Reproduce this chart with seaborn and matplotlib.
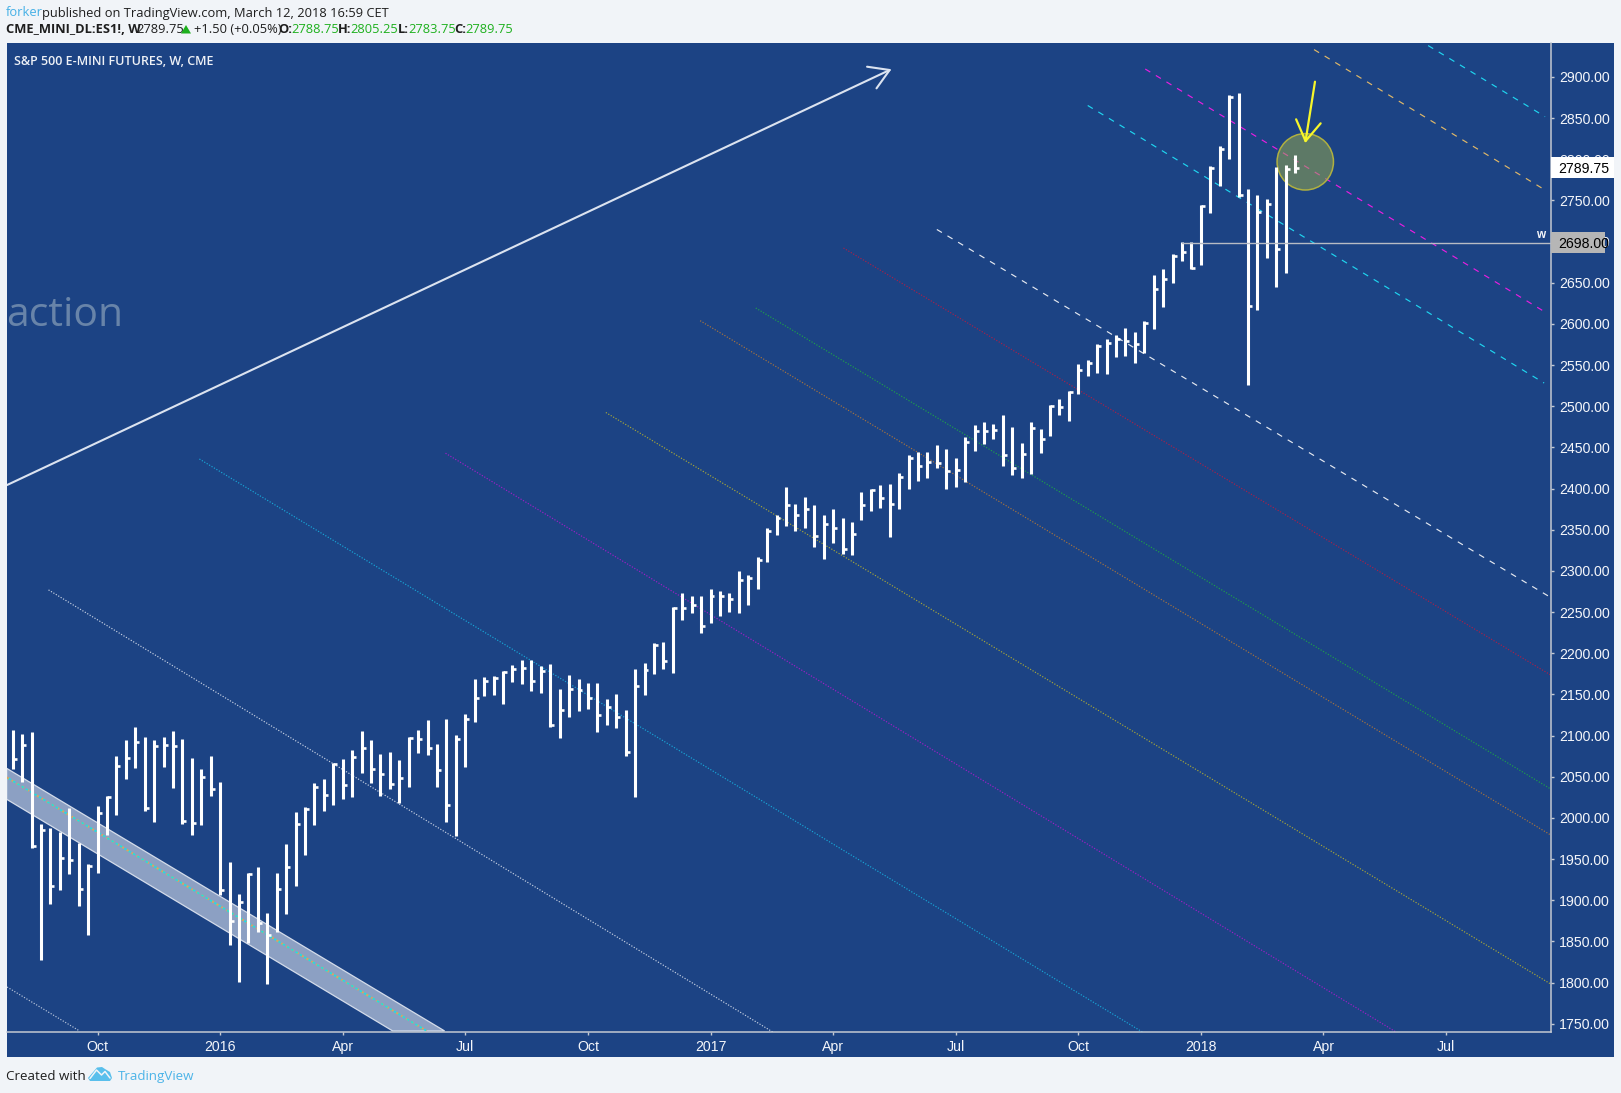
import matplotlib
matplotlib.use("Agg")
import matplotlib.pyplot as plt
from matplotlib.patches import Ellipse, Polygon, Rectangle
import numpy as np
import pandas as pd
import seaborn as sns

highs = [2106.9,2102.0,2104.4,1992.3,1987.8,1983.0,2011.7,1969.2,1943.7,2014.5,
2026.3,2075.3,2094.3,2110.0,2098.4,2094.3,2098.4,2105.2,2095.5,2072.8,
2059.5,2075.3,2043.3,1946.1,1907.2,1932.7,1940.0,1884.2,1932.7,1968.0,
2006.8,2012.9,2042.0,2046.9,2066.4,2071.2,2082.2,2105.2,2094.3,2077.7,
2080.1,2070.0,2098.8,2106.5,2118.6,2089.4,2120.2,2100.8,2126.3,2168.4,
2171.3,2172.5,2178.5,2185.8,2191.9,2191.9,2184.6,2187.0,2156.7,2173.7,
2168.4,2164.0,2164.0,2144.5,2150.6,2131.2,2181.0,2188.3,2212.6,2213.8,
2255.8,2273.2,2269.6,2269.6,2278.1,2275.7,2273.2,2300.0,2295.1,2317.0,
2351.8,2368.0,2402.0,2381.3,2389.8,2380.1,2368.0,2375.3,2364.3,2359.5,
2395.9,2399.5,2404.4,2405.6,2419.0,2440.8,2444.5,2444.5,2453.0,2448.1,
2437.2,2462.7,2477.3,2480.9,2478.5,2489.4,2474.9,2455.4,2480.9,2472.4,
2501.6,2508.9,2518.6,2551.3,2556.2,2575.6,2581.7,2586.6,2595.1,2590.2,
2603.6,2659.5,2666.7,2685.0,2699.5,2699.5,2744.0,2791.4,2815.7,2878.1,
2880.5,2763.5,2756.6,2751.3,2790.6,2793.0,2805.25]
lows = [2059.1,2044.1,1964.0,1827.5,1895.5,1912.5,1932.0,1893.0,1857.8,1933.6,
1979.3,2003.6,2047.3,2060.7,2008.5,1995.5,2061.9,2036.4,1992.7,1979.3,
1991.5,2026.7,1906.4,1845.7,1800.8,1848.1,1861.5,1798.3,1861.9,1883.4,
1917.4,1955.0,1991.5,2008.5,2015.8,2023.0,2025.5,2054.6,2042.0,2026.7,
2035.2,2017.8,2037.2,2078.9,2076.5,2037.2,1995.1,1978.1,2062.3,2117.0,
2148.2,2149.8,2138.5,2165.2,2162.8,2154.3,2151.8,2110.9,2097.2,2122.7,
2130.0,2132.4,2104.5,2113.0,2109.3,2075.3,2025.5,2149.4,2174.9,2181.0,
2176.1,2240.4,2248.9,2224.6,2236.8,2245.3,2250.1,2248.9,2258.6,2278.1,
2310.9,2343.7,2354.6,2348.1,2352.2,2329.1,2314.5,2334.0,2320.6,2319.4,
2361.9,2372.8,2376.5,2341.2,2375.3,2399.5,2409.3,2412.9,2425.0,2399.5,
2402.0,2408.0,2445.7,2454.2,2460.3,2427.5,2416.6,2412.9,2417.8,2443.3,
2463.9,2489.4,2482.1,2514.9,2536.8,2540.4,2539.2,2559.8,2561.1,2552.6,
2564.7,2593.9,2620.6,2649.7,2676.9,2666.3,2671.6,2735.2,2767.5,2800.7,
2753.8,2526.2,2616.9,2680.1,2645.3,2662.3,2783.75]
closes = [2071.2,2088.6,1966.0,1985.4,1917.4,1951.0,1948.5,1913.3,1942.0,2005.6,
2025.0,2063.5,2072.4,2091.9,2011.7,2087.4,2088.6,2087.4,1996.3,1993.9,
2049.8,2034.8,1912.5,1874.8,1897.5,1931.9,1872.0,1858.3,1913.3,1940.0,
1993.1,2011.3,2037.2,2028.3,2065.2,2040.5,2073.7,2084.6,2059.1,2053.0,
2040.9,2048.2,2097.1,2095.5,2085.4,2057.9,2016.2,2095.5,2119.8,2145.3,
2166.4,2170.0,2177.3,2180.6,2181.8,2166.0,2178.5,2113.4,2130.8,2156.3,
2155.1,2145.3,2124.7,2134.4,2122.3,2079.8,2159.9,2179.4,2210.1,2190.3,
2254.6,2254.6,2258.2,2232.7,2269.2,2269.2,2265.5,2288.6,2291.4,2313.3,
2348.1,2363.9,2379.7,2367.6,2375.3,2342.5,2357.0,2351.8,2326.3,2344.9,
2380.1,2398.3,2388.6,2381.3,2414.1,2437.2,2427.5,2432.3,2431.1,2421.4,
2422.6,2456.6,2470.0,2470.0,2471.2,2440.8,2425.0,2442.1,2473.6,2460.3,
2500.4,2499.2,2517.4,2544.0,2552.2,2573.2,2576.4,2581.3,2578.9,2575.2,
2601.6,2642.0,2654.2,2682.5,2687.4,2667.5,2742.8,2789.8,2812.1,2875.3,
2757.0,2621.4,2735.6,2745.3,2690.6,2788.2,2789.75]

# Trend lines: (bar start, price start, bar end, price end)
dotted_lines = [
    (-0.6, 1794.7, 7.1, 1741.2, "#b9c6dc"),
    (3.8, 2277.0, 80.6, 1740.0, "#c8d2e4"),
    (19.8, 2436.0, 119.8, 1740.0, "#18a7d8"),
    (45.9, 2443.0, 146.7, 1740.0, "#a11ec8"),
    (62.9, 2492.5, 163.1, 1798.3, "#a8a838"),
    (72.9, 2604.0, 163.1, 1979.3, "#a8743e"),
    (78.8, 2619.4, 163.1, 2035.2, "#1ea04a"),
    (88.1, 2692.3, 163.1, 2173.6, "#a8204a"),
]
dashed_lines = [
    (98.0, 2714.8, 163.1, 2267.8, "#e4e8f0"),
    (114.0, 2865.4, 162.4, 2528.3, "#1fd6f0"),
    (120.1, 2909.7, 162.4, 2615.2, "#e81ee0"),
    (138.0, 2933.3, 162.5, 2762.7, "#e0b868"),
    (150.1, 2938.2, 162.5, 2851.8, "#1fd6f0"),
]
channel_top = (-0.64, 2060.3, 45.8, 1741.3)
channel_bottom = (-0.64, 2022.7, 40.3, 1741.3)
channel_mid = (-0.64, 2049.4, 43.9, 1741.3)
long_arrow = (-0.6, 2404.4, 93.0, 2908.5)
long_arrow_head = (90.6, 2912.5, 91.6, 2886.2)
yellow_arrow = (138.1, 2894.3, 137.1, 2822.2)
yellow_arrow_head = (136.1, 2848.6, 138.7, 2843.7)
circle_centre = (137.07, 2797.0)
circle_size = (5.98, 68.5)
level_price = 2698.0
level_start = 124
y_ticks = list(range(1750, 2901, 50))
x_tick_bars = [9, 22, 35, 48, 61, 74, 87, 100, 113, 126, 139, 152]
x_tick_labels = ["Oct", "2016", "Apr", "Jul", "Oct", "2017", "Apr", "Jul", "Oct", "2018", "Apr", "Jul"]

W, H = 1621, 1093
BG = "#f1f4f8"
NAVY = "#1c4384"
AXIS = "#c4c9d2"

sns.set_theme(style="white")
plt.rcParams["font.family"] = ["Liberation Sans", "DejaVu Sans"]

fig = plt.figure(figsize=(W / 100, H / 100), dpi=100, facecolor=BG)
L, R, T, B = 7, 1551, 43, 1032.3
ax = fig.add_axes([L / W, 1 - B / H, (R - L) / W, (B - T) / H], facecolor=NAVY)

fig.patches.append(Rectangle((L / W, 1 - 1056.5 / H), (1614 - L) / W, (1056.5 - T) / H,
                             transform=fig.transFigure, facecolor=NAVY, edgecolor="none", zorder=-1))

# channel
chan = Polygon([(channel_top[0], channel_top[1]), (channel_top[2], channel_top[3]),
                (channel_bottom[2], channel_bottom[3]), (channel_bottom[0], channel_bottom[1])],
               closed=True, facecolor="#8ca0c3", edgecolor="#d4dcea", lw=0.9, zorder=1)
ax.add_patch(chan)
ax.plot([channel_mid[0], channel_mid[2]], [channel_mid[1], channel_mid[3]], color="#d8a860",
        lw=1.4, ls=(0, (1.5, 1.5)), zorder=1.5)
ax.plot([channel_mid[0], channel_mid[2]], [channel_mid[1], channel_mid[3]], color="#20e0e0",
        lw=1.2, ls=(1.5, (1.5, 1.5)), zorder=1.6)

for x0, y0, x1, y1, c in dotted_lines:
    ax.plot([x0, x1], [y0, y1], color=c, lw=0.85, ls=(0, (1, 1.4)), zorder=2)
for x0, y0, x1, y1, c in dashed_lines:
    ax.plot([x0, x1], [y0, y1], color=c, lw=0.85, ls=(0, (5, 5.5)), zorder=2)

# big faint text
ax.text(7, 327, "action", transform=None, color="#6884a9", fontsize=29.5, family="Open Sans",
        va="baseline", zorder=1.2, alpha=0)
fig.text(6.5 / W, 1 - 326.5 / H, "action", color="#6884a9", fontsize=29.5, family="Open Sans", va="baseline")

# long arrow
ax.plot([long_arrow[0], long_arrow[2]], [long_arrow[1], long_arrow[3]], color="#dbe3f0", lw=1.5, zorder=3)
ax.plot([long_arrow_head[0], long_arrow[2], long_arrow_head[2]],
        [long_arrow_head[1], long_arrow[3], long_arrow_head[3]], color="#dbe3f0", lw=1.5, zorder=3)

# circle
ax.add_patch(Ellipse(circle_centre, circle_size[0], circle_size[1], facecolor="#9fb04a", alpha=0.5,
                     edgecolor="none", zorder=4))
ax.add_patch(Ellipse(circle_centre, circle_size[0], circle_size[1], facecolor="none",
                     edgecolor="#b0b040", lw=1.1, zorder=4.1))

# bars
bars = np.arange(len(highs))
frame = pd.DataFrame({"bar": bars, "high": highs, "low": lows, "close": closes})
hl = frame.melt(id_vars="bar", value_vars=["high", "low"], value_name="price")
sns.lineplot(data=hl, x="bar", y="price", units="bar", estimator=None, color="white", lw=2.2,
             solid_capstyle="butt", legend=False, ax=ax, zorder=5)
ct = pd.concat([frame.assign(x=frame["bar"].astype(float)), frame.assign(x=frame["bar"] + 0.42)])
sns.lineplot(data=ct, x="x", y="close", units="bar", estimator=None, color="white", lw=1.9,
             solid_capstyle="butt", legend=False, ax=ax, zorder=5)

# level line
ax.plot([level_start, 163.1], [level_price, level_price], color="#b8bcc4", lw=1.0, zorder=5.5)

# yellow arrow
ax.plot([yellow_arrow[0], yellow_arrow[2]], [yellow_arrow[1], yellow_arrow[3]], color="#f6f62a", lw=1.6, zorder=6)
ax.plot([yellow_arrow_head[0], yellow_arrow[2], yellow_arrow_head[2]],
        [yellow_arrow_head[1], yellow_arrow[3], yellow_arrow_head[3]], color="#f6f62a", lw=1.6, zorder=6)

ax.set_xlim((L - 12.7) / 9.43, (R - 12.7) / 9.43)
ax.set_ylim(2900 - (B - 77) / 0.8233, 2900 - (T - 77) / 0.8233)
ax.yaxis.tick_right()
ax.set_yticks(y_ticks)
ax.set_yticklabels([f"{v:.2f}" for v in y_ticks])
ax.set_xticks(x_tick_bars)
ax.set_xticklabels(x_tick_labels)
ax.set_xlabel("")
ax.set_ylabel("")
ax.tick_params(axis="both", which="both", length=2.4, width=1.0, color=AXIS, labelcolor="#f4f6fa",
               labelsize=10.2, bottom=True, right=True, left=False, top=False)
ax.tick_params(axis="y", pad=3.2)
ax.tick_params(axis="x", pad=3.5)
for s in ["top", "left"]:
    ax.spines[s].set_visible(False)
for s in ["bottom", "right"]:
    ax.spines[s].set_color(AXIS)
    ax.spines[s].set_linewidth(1.1)


def put(x, y, s, color="#1e1e1e", weight="normal", size=9.3, family="Open Sans", **kw):
    return fig.text(x / W, 1 - y / H, s, color=color, fontweight=weight, fontsize=size,
                    family=family, va="baseline", **kw)


def box(x0, y0, x1, y1, color):
    fig.patches.append(Rectangle((x0 / W, 1 - y1 / H), (x1 - x0) / W, (y1 - y0) / H,
                                 transform=fig.transFigure, facecolor=color, edgecolor="none", zorder=5))


# header
GREEN = "#1eb01e"
put(6, 16.5, "forker", color="#45b0e6")
put(42.5, 16.5, "published on TradingView.com, March 12, 2018 16:59 CET")
put(6, 33.2, "CME_MINI_DL:ES1!, W", weight="bold")
put(136, 33.2, "2789.75")
fig.patches.append(Polygon([(181 / W, 1 - 33.5 / H), (186 / W, 1 - 25 / H), (191 / W, 1 - 33.5 / H)],
                           closed=True, transform=fig.transFigure, facecolor=GREEN, edgecolor="none", zorder=4))
put(194, 33.2, "+1.50 (+0.05%)")
for lab, x_lab, val, x_val in [("O:", 278, "2788.75", 291), ("H:", 338, "2805.25", 350),
                               ("L:", 398, "2783.75", 408), ("C:", 454, "2789.75", 465)]:
    put(x_lab, 33.2, lab, weight="bold")
    put(x_val, 33.2, val, color=GREEN)
put(14, 65, "S&P 500 E-MINI FUTURES, W, CME", color="#eef1f6", weight="semibold", size=9)

# price boxes
box(1551, 157, 1614, 177.7, "white")
box(1551, 232, 1605, 252.7, "#b6b6b6")
lab1 = fig.text(1558.5 / W, 1 - 172.7 / H, "2789.75", color="black", fontsize=10.2, va="baseline", zorder=7)
lab2 = fig.text(1558.5 / W, 1 - 247.7 / H, "2698.00", color="black", fontsize=10.2, va="baseline", zorder=7)
fig.text(1536 / W, 1 - 238.5 / H, "w", color="#f4f6fa", fontsize=8.5, fontweight="bold", va="baseline")

# footer
put(6, 1080, "Created with", size=9.6)
put(118, 1080, "TradingView", color="#4cb4e8", size=9.6)
logo = [(88, 1078), (94, 1071), (97, 1067.5), (102, 1067), (105, 1069), (110, 1072), (112, 1078), (110, 1081), (90, 1081)]
fig.patches.append(Polygon([(x / W, 1 - y / H) for x, y in logo], closed=True, transform=fig.transFigure,
                           facecolor="#59bfec", edgecolor="none", zorder=4))
zig = [(90, 1078.5), (96.5, 1070), (101.5, 1075), (105, 1071.5), (110, 1078)]
fig.add_artist(plt.Line2D([x / W for x, _ in zig], [1 - y / H for _, y in zig], color=BG, lw=1.1,
                          transform=fig.transFigure, zorder=4.5))

fig.savefig("out.png", dpi=100, facecolor=BG)
